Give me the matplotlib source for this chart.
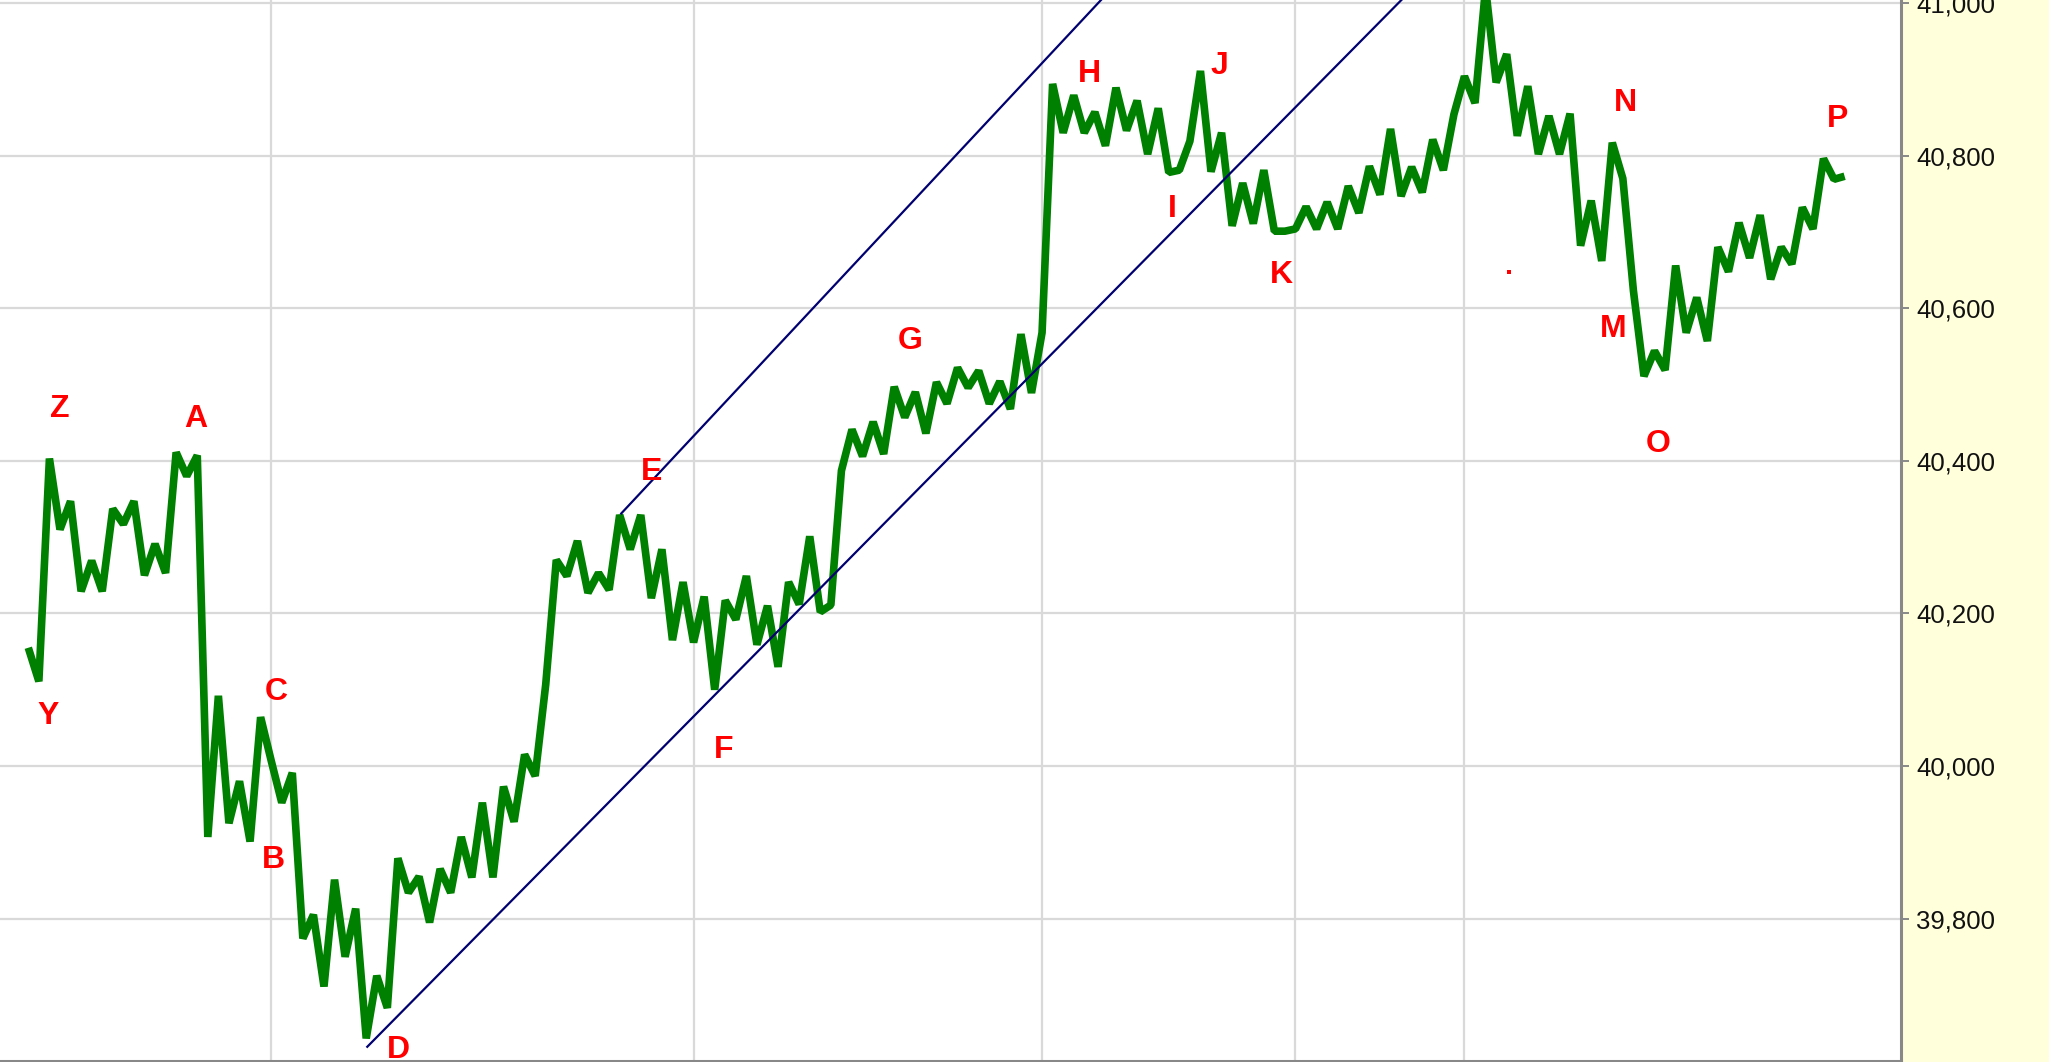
import numpy as np
import matplotlib
matplotlib.use("Agg")
import matplotlib.pyplot as plt

# ---- data ----
prices = [
    40155, 40111, 40403, 40310, 40347, 40229, 40269, 40229, 40337, 40317,
    40347, 40250, 40291, 40253, 40411, 40380, 40407, 39907, 40092, 39925,
    39980, 39901, 40064, 40007, 39952, 39991, 39774, 39805, 39711, 39851,
    39750, 39813, 39643, 39725, 39683, 39879, 39834, 39855, 39795, 39865,
    39834, 39907, 39854, 39952, 39854, 39973, 39927, 40015, 39987, 40107,
    40270, 40249, 40295, 40227, 40253, 40231, 40329, 40284, 40329, 40220,
    40284, 40165, 40241, 40162, 40222, 40100, 40217, 40192, 40249, 40159,
    40210, 40130, 40241, 40212, 40301, 40202, 40211, 40387, 40441, 40406,
    40451, 40409, 40497, 40457, 40490, 40436, 40503, 40475, 40522, 40496,
    40518, 40475, 40504, 40468, 40566, 40489, 40568, 40894, 40830, 40879,
    40830, 40857, 40813, 40889, 40833, 40872, 40802, 40862, 40778, 40781,
    40819, 40911, 40779, 40830, 40708, 40764, 40711, 40781, 40701, 40701,
    40704, 40733, 40704, 40739, 40704, 40760, 40725, 40786, 40749, 40835,
    40747, 40785, 40752, 40821, 40781, 40854, 40904, 40869, 41020, 40896,
    40933, 40826, 40891, 40802, 40852, 40802, 40855, 40682, 40741, 40662,
    40817, 40770, 40623, 40511, 40544, 40519, 40656, 40568, 40614, 40557,
    40680, 40648, 40712, 40666, 40722, 40638, 40680, 40658, 40732, 40704,
    40796, 40769, 40773,
]

# trend lines: (bar index, price) end points
lower_trend_x = [32.1, 130.1]
lower_trend_y = [39632, 41005]
upper_trend_x = [56.15, 101.65]
upper_trend_y = [40331, 41005]

# wave labels
label_text = ["Y", "Z", "A", "B", "C", "D", "E", "F", "G", "H", "I", "J",
              "K", "M", "N", "O", "P"]
label_x = [1.89, 3.0, 15.88, 23.2, 23.46, 35.04, 58.98, 65.88, 83.49, 100.44,
           108.37, 112.78, 118.63, 150.1, 151.2, 154.3, 171.3]
label_y = [40070, 40472, 40459, 39881, 40101, 39632, 40390, 40025, 40562, 40912,
           40734, 40922, 40648, 40577, 40874, 40427, 40853]

stray_dot_x = [140.25]
stray_dot_y = [40647]

y_ticks = [39800, 40000, 40200, 40400, 40600, 40800, 41000]
x_grid = [23, 63, 96, 120, 136]

# ---- figure ----
W, H = 2049, 1062
fig = plt.figure(figsize=(W / 100, H / 100), dpi=100)
fig.patch.set_facecolor("#FFFFDC")

ax = fig.add_axes([0, 1.5 / H, 1901 / W, 1 - 1.5 / H])
ax.set_facecolor("white")

x = np.arange(len(prices))
ax.plot(x, prices, color="#008000", lw=5.5, solid_joinstyle="bevel",
        solid_capstyle="butt", zorder=3)

ax.plot(lower_trend_x, lower_trend_y, color="#000070", lw=1.6, zorder=4)
ax.plot(upper_trend_x, upper_trend_y, color="#000070", lw=1.6, zorder=4)

for t, lx, ly in zip(label_text, label_x, label_y):
    ax.annotate(t, (lx, ly), xytext=(0, -8.2), textcoords="offset points",
                ha="center", va="baseline", color="#FF0000", fontsize=23,
                fontweight="bold", family=["Liberation Sans", "DejaVu Sans"],
                zorder=5, annotation_clip=False)

ax.scatter(stray_dot_x, stray_dot_y, s=5, color="#FF0000", marker="s",
           linewidths=0, zorder=5)

ax.set_xlim(-2.68, 177.34)
ax.set_ylim(39614, 41004)

ax.set_yticks(y_ticks)
ax.set_yticklabels([f"{v:,}" for v in y_ticks])
ax.set_xticks(x_grid)
ax.set_xticklabels([])

ax.grid(True, color="#D9D9D9", lw=1.6, zorder=0)
ax.set_axisbelow(True)

ax.yaxis.tick_right()
ax.tick_params(axis="y", which="both", right=True, left=False, length=6,
               width=1.4, color="#888888", pad=5, labelsize=18.5,
               labelcolor="#111111")
ax.tick_params(axis="x", which="both", length=0, bottom=False)
for lab in ax.get_yticklabels():
    lab.set_family(["Liberation Sans", "DejaVu Sans"])

for side in ["left", "top"]:
    ax.spines[side].set_visible(False)
for side in ["right", "bottom"]:
    ax.spines[side].set_color("#888888")
    ax.spines[side].set_linewidth(2.2)

fig.savefig("out.png", dpi=100, facecolor=fig.get_facecolor())
